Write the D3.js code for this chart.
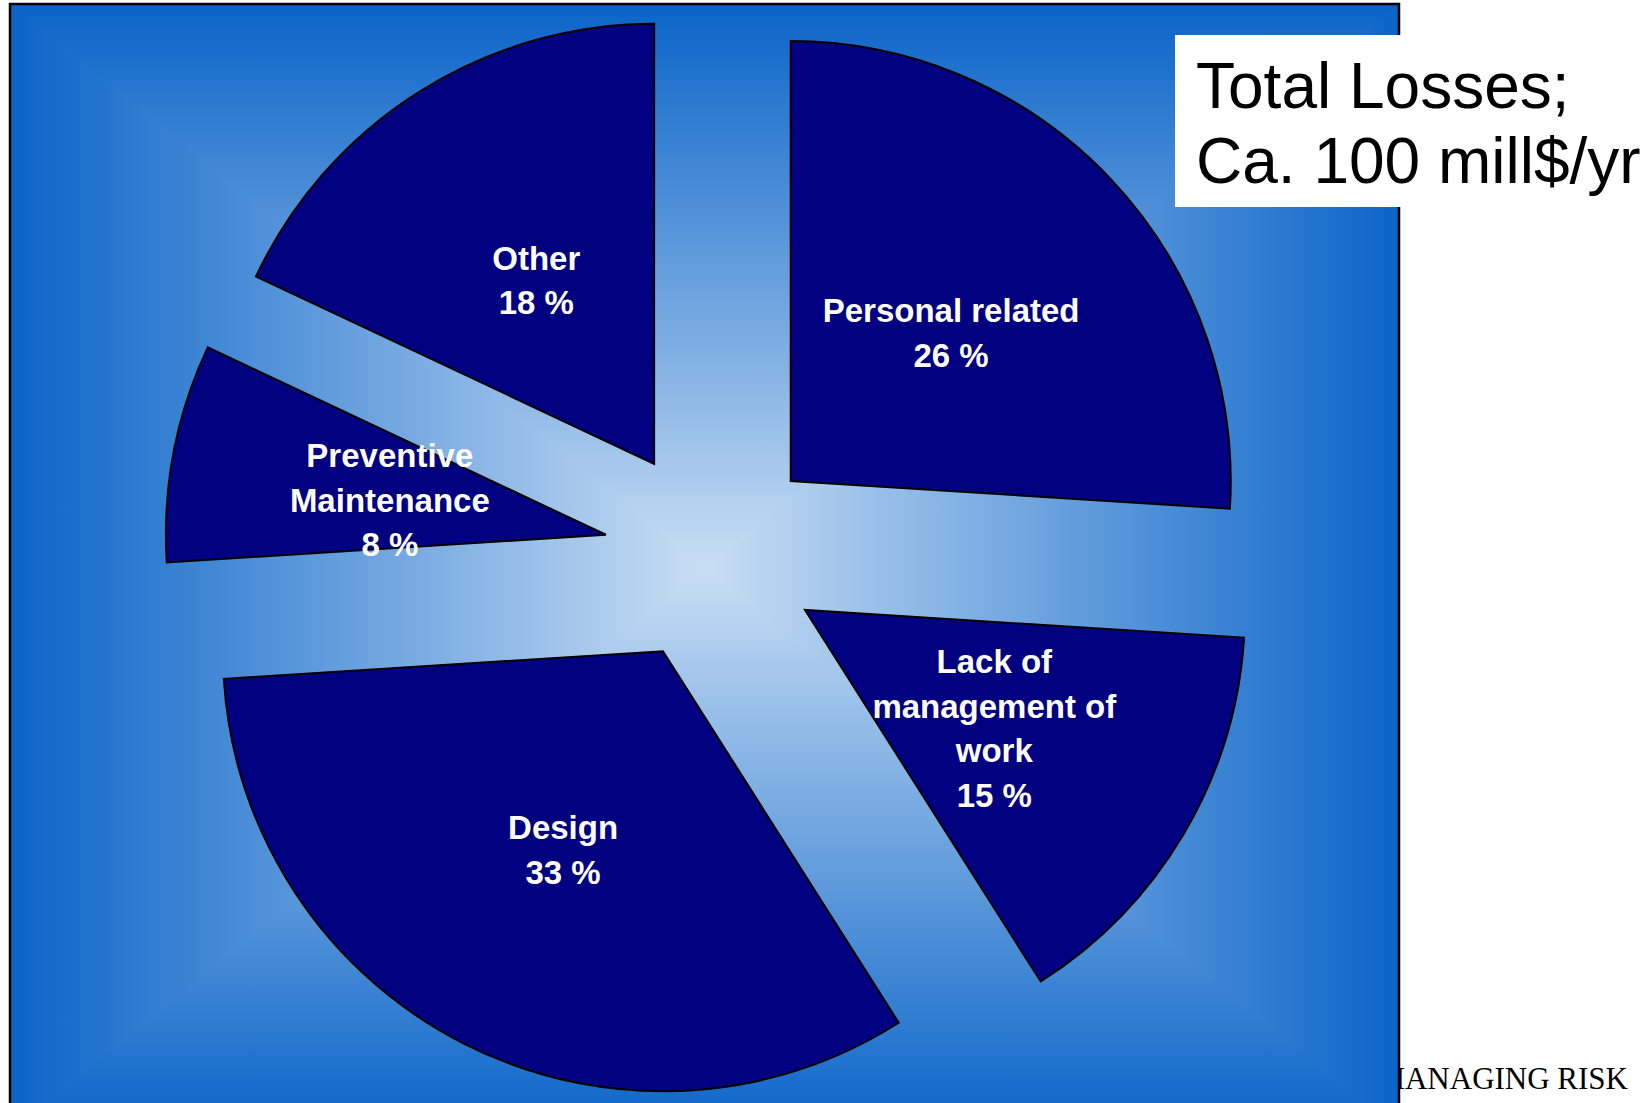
<!DOCTYPE html>
<html>
<head>
<meta charset="utf-8">
<script src="https://cdn.jsdelivr.net/npm/d3@7"></script>
<style>
  body { margin: 0; background: #fff; }
</style>
</head>
<body>
<div id="chart"></div>
<script>
// data
var categories = ["Personal related", "Lack of management of work", "Design", "Preventive Maintenance", "Other"];
var values = [26, 15, 33, 8, 18];
var labelLines = [
  ["Personal related"],
  ["Lack of", "management of", "work"],
  ["Design"],
  ["Preventive", "Maintenance"],
  ["Other"]
];
var titleLines = ["Total Losses;", "Ca. 100 mill$/yr"];
var footer = "MANAGING RISK";

var width = 1649, height = 1103;
var frame = {x0: 10, y0: 4, x1: 1399, y1: 1132};
var cx = 705, cy = 568;          // centre of background gradient
var pieX = 712, pieY = 555, radius = 440, explode = 108;
var edgeCol = "#0a64c8", midCol = "#c9def4";

var svg = d3.select("#chart")
  .append("svg")
    .attr("width", width)
    .attr("height", height);

var defs = svg.append("defs");

// footer text, partly hidden behind the frame
svg.append("text")
  .attr("x", 1628)
  .attr("y", 1089)
  .attr("text-anchor", "end")
  .style("font-family", "'Liberation Serif', 'DejaVu Serif', serif")
  .style("font-size", "31px")
  .attr("fill", "#000")
  .text(footer);

// rectangular "from centre" gradient: horizontal base + top/bottom triangles
var gH = defs.append("linearGradient").attr("id", "gH")
  .attr("gradientUnits", "userSpaceOnUse")
  .attr("x1", frame.x0).attr("y1", 0).attr("x2", frame.x1).attr("y2", 0);
gH.append("stop").attr("offset", 0).attr("stop-color", edgeCol);
gH.append("stop").attr("offset", (cx - frame.x0) / (frame.x1 - frame.x0)).attr("stop-color", midCol);
gH.append("stop").attr("offset", 1).attr("stop-color", edgeCol);

var gV = defs.append("linearGradient").attr("id", "gV")
  .attr("gradientUnits", "userSpaceOnUse")
  .attr("x1", 0).attr("y1", frame.y0).attr("x2", 0).attr("y2", frame.y1);
gV.append("stop").attr("offset", 0).attr("stop-color", edgeCol);
gV.append("stop").attr("offset", (cy - frame.y0) / (frame.y1 - frame.y0)).attr("stop-color", midCol);
gV.append("stop").attr("offset", 1).attr("stop-color", edgeCol);

svg.append("rect")
  .attr("x", frame.x0).attr("y", frame.y0)
  .attr("width", frame.x1 - frame.x0).attr("height", frame.y1 - frame.y0)
  .attr("fill", "url(#gH)");

var tris = [
  [[frame.x0, frame.y0], [frame.x1, frame.y0], [cx, cy]],
  [[frame.x0, frame.y1], [frame.x1, frame.y1], [cx, cy]]
];
svg.selectAll(".tri")
  .data(tris)
  .enter()
  .append("path")
    .attr("class", "tri")
    .attr("d", function(d) { return "M" + d.join("L") + "Z"; })
    .attr("fill", "url(#gV)");

svg.append("rect")
  .attr("x", frame.x0).attr("y", frame.y0)
  .attr("width", frame.x1 - frame.x0).attr("height", frame.y1 - frame.y0)
  .attr("fill", "none")
  .attr("stroke", "#000")
  .attr("stroke-width", 2.5);

// pie
var pie = d3.pie().sort(null).value(function(d) { return d; });
var arcs = pie(values);
var arc = d3.arc().innerRadius(0).outerRadius(radius);

function offset(d) {
  var a = (d.startAngle + d.endAngle) / 2;
  return [Math.sin(a) * explode, -Math.cos(a) * explode];
}

var g = svg.append("g")
  .attr("transform", "translate(" + pieX + "," + pieY + ")");

g.selectAll(".slice")
  .data(arcs)
  .enter()
  .append("path")
    .attr("class", "slice")
    .attr("transform", function(d) { var o = offset(d); return "translate(" + o[0] + "," + o[1] + ")"; })
    .attr("d", arc)
    .attr("fill", "#000080")
    .attr("stroke", "#000")
    .attr("stroke-width", 2)
    .attr("stroke-linejoin", "miter");

// labels
var lineH = 44.5;
g.selectAll(".lbl")
  .data(arcs)
  .enter()
  .append("text")
    .attr("class", "lbl")
    .attr("text-anchor", "middle")
    .attr("fill", "#fff")
    .style("font-family", "'Liberation Sans', Arial, sans-serif")
    .style("font-weight", "bold")
    .style("font-size", "33px")
    .each(function(d, i) {
      var o = offset(d), c = arc.centroid(d);
      var lines = labelLines[i].concat([values[i] + " %"]);
      var shift = lines.length > 2 ? 18 : 14;
      var t = d3.select(this);
      lines.forEach(function(s, j) {
        t.append("tspan")
          .attr("x", c[0] + o[0])
          .attr("y", c[1] + o[1] + (j - (lines.length - 1) / 2) * lineH + shift)
          .text(s);
      });
    });

// title box
svg.append("rect")
  .attr("x", 1175).attr("y", 35)
  .attr("width", width - 1175).attr("height", 172)
  .attr("fill", "#fff");

svg.selectAll(".title")
  .data(titleLines)
  .enter()
  .append("text")
    .attr("class", "title")
    .attr("x", 1196)
    .attr("y", function(d, i) { return 108 + i * 75; })
    .style("font-family", "'Liberation Sans', Arial, sans-serif")
    .style("font-size", "64px")
    .attr("fill", "#000")
    .text(function(d) { return d; });
</script>
</body>
</html>
